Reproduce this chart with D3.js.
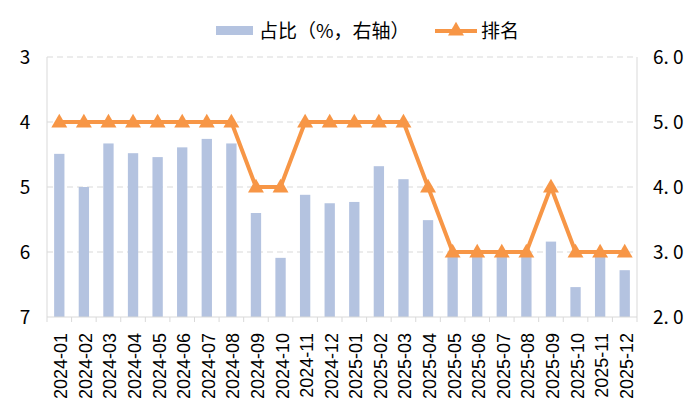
<!DOCTYPE html>
<html>
<head>
<meta charset="utf-8">
<script src="https://cdn.jsdelivr.net/npm/d3@7"></script>
<style>
  body { margin: 0; background: #fff; }
  text { font-family: "Noto Sans CJK SC", "DejaVu Sans", sans-serif; fill: #000; }
</style>
</head>
<body>
<div id="chart"></div>
<script>
// datos
const months = ["2024-01","2024-02","2024-03","2024-04","2024-05","2024-06","2024-07","2024-08",
  "2024-09","2024-10","2024-11","2024-12","2025-01","2025-02","2025-03","2025-04",
  "2025-05","2025-06","2025-07","2025-08","2025-09","2025-10","2025-11","2025-12"]
const share = [4.51, 4.0, 4.67, 4.52, 4.46, 4.61, 4.74, 4.67, 3.6, 2.91, 3.88, 3.75,
  3.77, 4.32, 4.12, 3.49, 2.95, 2.96, 2.95, 2.96, 3.16, 2.46, 2.93, 2.72]
const rank = [4, 4, 4, 4, 4, 4, 4, 4, 5, 5, 4, 4, 4, 4, 4, 5, 6, 6, 6, 6, 5, 6, 6, 6]
const leftTicks = [3, 4, 5, 6, 7]
const rightTicks = [2, 3, 4, 5, 6]
const legendLabels = ["占比（%，右轴）", "排名"]

const W = 700, H = 420
const margin = { top: 57, right: 63, bottom: 103, left: 47 }
const w = W - margin.left - margin.right
const h = H - margin.top - margin.bottom

const barColor = "#b4c3e0"
const lineColor = "#f79646"

const svg = d3.select("#chart").append("svg")
  .attr("width", W).attr("height", H)

const g = svg.append("g")
  .attr("transform", `translate(${margin.left},${margin.top})`)

const x = d3.scaleBand().domain(months).range([0, w]).paddingInner(0.58).paddingOuter(0.29)
const xTicks = d3.scaleBand().domain(months).range([0, w])
const yL = d3.scaleLinear().domain([3, 7]).range([0, h])
const yR = d3.scaleLinear().domain([2, 6]).range([h, 0])

// rejilla
g.append("g").selectAll("line")
  .data(leftTicks.slice(0, -1))
  .join("line")
  .attr("x1", 0).attr("x2", w)
  .attr("y1", d => yL(d)).attr("y2", d => yL(d))
  .attr("stroke", "#d9d9d9").attr("stroke-dasharray", "6,4").attr("stroke-width", 1)

// ejes verticales
g.append("line").attr("x1", 0).attr("x2", 0).attr("y1", 0).attr("y2", h)
  .attr("stroke", "#d9d9d9")
g.append("line").attr("x1", w).attr("x2", w).attr("y1", 0).attr("y2", h)
  .attr("stroke", "#d9d9d9")

// barras
g.append("g").selectAll("rect")
  .data(months)
  .join("rect")
  .attr("x", d => x(d))
  .attr("width", x.bandwidth())
  .attr("y", (d, i) => yR(share[i]))
  .attr("height", (d, i) => h - yR(share[i]))
  .attr("fill", barColor)

// eje x
const xAxis = g.append("g")
  .attr("transform", `translate(0,${h})`)
xAxis.append("line").attr("x1", 0).attr("x2", w).attr("stroke", "#d9d9d9")
xAxis.selectAll(".tk")
  .data(months.concat(["end"]))
  .join("line")
  .attr("x1", (d, i) => i * xTicks.step()).attr("x2", (d, i) => i * xTicks.step())
  .attr("y1", 0).attr("y2", 5)
  .attr("stroke", "#d9d9d9")
xAxis.selectAll("text")
  .data(months)
  .join("text")
  .attr("transform", d => `translate(${x(d) + x.bandwidth() / 2 + 8},16) rotate(-90)`)
  .attr("text-anchor", "end")
  .attr("font-size", 18)
  .style("font-family", "'Liberation Sans', Arial, sans-serif")
  .text(d => d)

// linea de ranking
const line = d3.line()
  .x((d, i) => x(months[i]) + x.bandwidth() / 2)
  .y(d => yL(d))
g.append("path")
  .datum(rank)
  .attr("d", line)
  .attr("fill", "none")
  .attr("stroke", lineColor)
  .attr("stroke-width", 4)
  .attr("stroke-linejoin", "round")

const tri = d3.symbol().type(d3.symbolTriangle).size(110)
g.append("g").selectAll("path")
  .data(rank)
  .join("path")
  .attr("transform", (d, i) => `translate(${x(months[i]) + x.bandwidth() / 2},${yL(d) + 1})`)
  .attr("d", tri)
  .attr("fill", lineColor)

// etiquetas ejes
g.append("g").selectAll("text")
  .data(leftTicks)
  .join("text")
  .attr("x", -22).attr("y", d => yL(d))
  .attr("dy", "0.36em")
  .attr("text-anchor", "middle")
  .attr("font-size", 19)
  .text(d => d)

g.append("g").selectAll("text")
  .data(rightTicks)
  .join("text")
  .attr("x", w + 16).attr("y", d => yR(d))
  .attr("dy", "0.36em")
  .attr("font-size", 19)
  .text(d => d3.format(".1f")(d).replace(".", ". "))

// leyenda
const leg = svg.append("g")
leg.append("rect").attr("x", 216).attr("y", 26).attr("width", 37).attr("height", 9).attr("fill", barColor)
leg.append("text").attr("x", 259).attr("y", 31).attr("dy", "0.36em").attr("font-size", 19).text(legendLabels[0])
leg.append("line").attr("x1", 435).attr("x2", 477).attr("y1", 31).attr("y2", 31)
  .attr("stroke", lineColor).attr("stroke-width", 4)
leg.append("path").attr("transform", "translate(456,31)").attr("d", tri).attr("fill", lineColor)
leg.append("text").attr("x", 481).attr("y", 31).attr("dy", "0.36em").attr("font-size", 19).text(legendLabels[1])
</script>
</body>
</html>
